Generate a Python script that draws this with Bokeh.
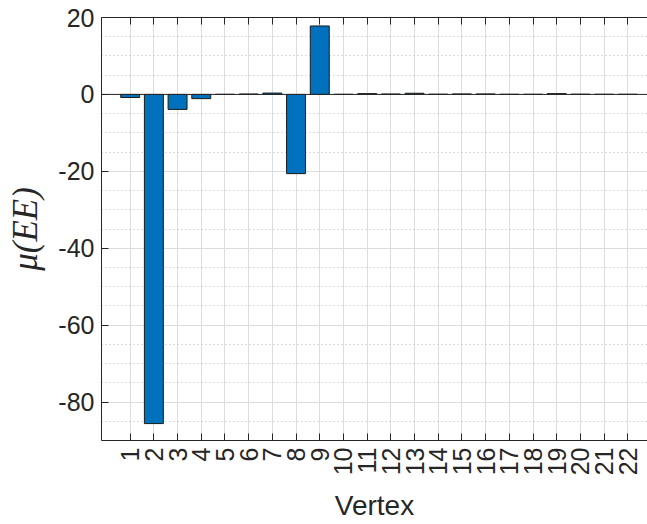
import math
from bokeh.plotting import figure
from bokeh.models import FixedTicker, LinearAxis, Span, Range1d, ColumnDataSource
from bokeh.embed import file_html
from bokeh.resources import INLINE

# ---- data ----
vertices = list(range(1, 23))
vertex_labels = [str(v) for v in vertices]
mu_ee = [-0.8, -85.6, -3.9, -1.1, 0.02, 0.1, 0.35, -20.6, 17.8, 0.02, 0.2,
         0.1, 0.3, 0.05, 0.12, 0.12, 0.03, 0.03, 0.2, 0.05, 0.03, 0.03]
y_ticks = [-80, -60, -40, -20, 0, 20]
y_tick_labels = ["-80", "-60", "-40", "-20", "0", "20"]
y_minor = [v for v in range(-90, 21, 5) if v % 20 != 0]

AX = "#262626"
FONT = "Liberation Sans"

p = figure(width=647, height=524,
           x_range=Range1d(-0.21, 22.83), y_range=Range1d(-90, 20),
           output_backend="svg", toolbar_location=None,
           min_border_left=101, min_border_right=0,
           min_border_top=17, min_border_bottom=84)
p.outline_line_color = None
p.background_fill_color = "white"

src = ColumnDataSource(dict(x=vertices, y=mu_ee))
p.vbar(x="x", top="y", bottom=0, width=0.8, source=src,
       fill_color="#0072BD", line_color="#1a1a1a", line_width=1)

p.add_layout(Span(location=0, dimension="width", line_color=AX, line_width=1))

xt = FixedTicker(ticks=vertices)
yt = FixedTicker(ticks=y_ticks, minor_ticks=y_minor)

p.xaxis.ticker = xt
p.yaxis.ticker = yt
p.xaxis.major_label_overrides = {v: l for v, l in zip(vertices, vertex_labels)}
p.yaxis.major_label_overrides = {v: l for v, l in zip(y_ticks, y_tick_labels)}
p.xaxis.major_label_orientation = math.pi / 2

for ax in (p.xaxis[0], p.yaxis[0]):
    ax.axis_line_color = AX
    ax.axis_line_width = 1
    ax.major_tick_line_color = AX
    ax.major_tick_in = 7
    ax.major_tick_out = 0
    ax.minor_tick_in = 0
    ax.minor_tick_out = 0
    ax.major_label_text_font = FONT
    ax.major_label_text_font_size = "25px"
    ax.major_label_text_color = AX
    ax.major_label_standoff = 7

p.xaxis.axis_label = "Vertex"
p.xaxis.axis_label_text_font = FONT
p.xaxis.axis_label_text_font_size = "28px"
p.xaxis.axis_label_text_font_style = "normal"
p.xaxis.axis_label_text_color = AX
p.xaxis.axis_label_standoff = 12

p.yaxis.axis_label = "μ(EE)"
p.yaxis.axis_label_text_font = "Liberation Serif"
p.yaxis.axis_label_text_font_size = "35px"
p.yaxis.axis_label_text_font_style = "italic"
p.yaxis.axis_label_text_color = AX
p.yaxis.axis_label_standoff = 10

top = LinearAxis(ticker=xt, axis_line_color=AX, major_tick_line_color=AX,
                 major_tick_in=7, major_tick_out=0, minor_tick_in=0, minor_tick_out=0,
                 major_label_text_font_size="0px", major_label_standoff=0)
p.add_layout(top, "above")

p.xgrid.ticker = xt
p.ygrid.ticker = yt
p.xgrid.grid_line_color = "#dcdcdc"
p.ygrid.grid_line_color = "#dcdcdc"
p.ygrid.minor_grid_line_color = "#b8b8b8"
p.ygrid.minor_grid_line_dash = "1 3"

open("out.html", "w").write(file_html(p, INLINE))
